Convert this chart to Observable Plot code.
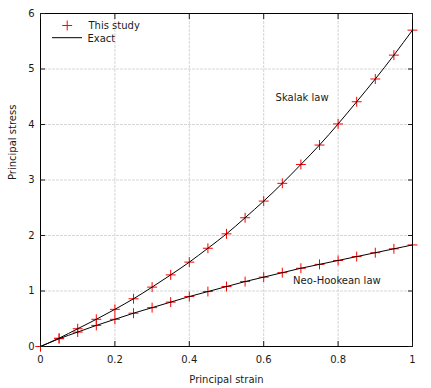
<!DOCTYPE html>
<html><head><meta charset="utf-8">
<script src="https://cdn.jsdelivr.net/npm/d3@7"></script>
<script src="https://cdn.jsdelivr.net/npm/@observablehq/plot@0.6"></script>
<style>body{margin:0;background:#fff} svg{display:block}</style>
</head><body><div id="chart"></div>
<script>
const strain = [0,0.05,0.1,0.15,0.2,0.25,0.3,0.35,0.4,0.45,0.5,0.55,0.6,0.65,0.7,0.75,0.8,0.85,0.9,0.95,1.0];
const skalak = [0,0.15,0.32,0.49,0.67,0.86,1.07,1.29,1.52,1.77,2.03,2.32,2.62,2.94,3.28,3.63,4.01,4.41,4.82,5.25,5.70];
const neoHookean = [0,0.14,0.26,0.38,0.49,0.60,0.70,0.80,0.90,0.99,1.08,1.17,1.25,1.33,1.41,1.48,1.55,1.62,1.69,1.76,1.83];
const xTicks = [0,0.2,0.4,0.6,0.8,1];
const yTicks = [0,1,2,3,4,5,6];
const xLabel = "Principal strain";
const yLabel = "Principal stress";
const legendLabels = ["This study","Exact"];
const curveLabels = ["Skalak law","Neo-Hookean law"];

const rows = strain.map((x,i)=>({x, s: skalak[i], n: neoHookean[i]}));
const font = "'DejaVu Sans', sans-serif";
const txt = "#1a1a1a";
const grid = {stroke:"#d6d6d6", strokeOpacity:1, strokeDasharray:"3,1"};
const mk = {symbol:"plus", r:3.3, stroke:"red", strokeWidth:1};

const plot = Plot.plot({
  width:431, height:388, marginLeft:40, marginRight:19, marginTop:13, marginBottom:42,
  style:{fontFamily:font, fontSize:"10px", color:txt, background:"#fff", overflow:"visible"},
  x:{domain:[0,1]}, y:{domain:[0,6]},
  marks:[
    Plot.gridX(xTicks.slice(1,-1), grid),
    Plot.gridY(yTicks.slice(1,-1), grid),
    Plot.dot(rows,{x:"x",y:"s",...mk}),
    Plot.dot(rows,{x:"x",y:"n",...mk}),
    Plot.line(rows,{x:"x",y:"s",curve:"natural",stroke:"black",strokeWidth:1}),
    Plot.line(rows,{x:"x",y:"n",curve:"natural",stroke:"black",strokeWidth:1}),
    Plot.frame({stroke:"black"}),
    Plot.axisX(xTicks,{anchor:"bottom", tickSize:-5, tickPadding:14, tickFormat:d3.format("~g"), label:null}),
    Plot.axisX(xTicks,{anchor:"top", tickSize:-5, tickFormat:()=>"", label:null}),
    Plot.axisY(yTicks,{anchor:"left", tickSize:-5, tickPadding:11, tickFormat:d3.format("~g"), label:null}),
    Plot.axisY(yTicks,{anchor:"right", tickSize:-5, tickFormat:()=>"", label:null}),
    Plot.text([xLabel],{text:d=>d, frameAnchor:"bottom", lineAnchor:"middle", dy:33, fill:txt}),
    Plot.text([yLabel],{text:d=>d, frameAnchor:"left", dx:-28, rotate:-90, fill:txt}),
    Plot.text([curveLabels[0]],{text:d=>d, x:0.632, y:4.49, textAnchor:"start", fill:txt}),
    Plot.text([curveLabels[1]],{text:d=>d, x:0.679, y:1.18, textAnchor:"start", fill:txt}),
    Plot.dot([legendLabels[0]],{frameAnchor:"top-left", dx:26.7, dy:12, ...mk}),
    Plot.text([legendLabels[0]],{text:d=>d, frameAnchor:"top-left", lineAnchor:"middle", dx:48, dy:12, textAnchor:"start", fill:txt}),
    Plot.text([legendLabels[1]],{text:d=>d, frameAnchor:"top-left", lineAnchor:"middle", dx:47, dy:25, textAnchor:"start", fill:txt})
  ]
});
d3.select(plot).append("line")
  .attr("x1",52).attr("x2",82).attr("y1",37.7).attr("y2",37.7)
  .attr("stroke","black").attr("stroke-width",1);
document.getElementById("chart").appendChild(plot);
</script>
</body></html>
